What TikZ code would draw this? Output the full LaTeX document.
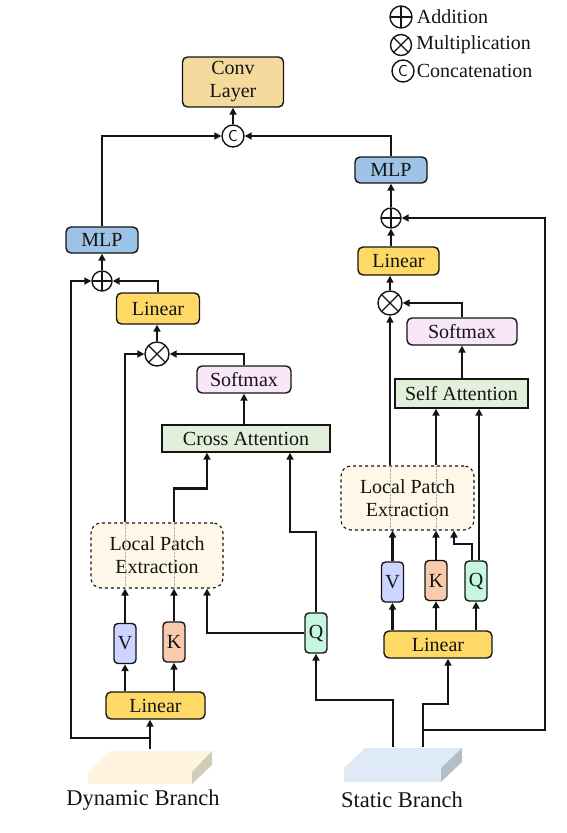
\documentclass[tikz,border=0pt]{standalone}
\usepackage{fontspec}
\setmainfont{Liberation Serif}
\usetikzlibrary{arrows.meta,positioning}
\definecolor{dbink}{HTML}{141414}
\definecolor{dbconv}{HTML}{F5DA9E}
\definecolor{dbmlp}{HTML}{9DC3E6}
\definecolor{dblinear}{HTML}{FFD966}
\definecolor{dbsoft}{HTML}{F9E7F9}
\definecolor{dbattn}{HTML}{E2EFDA}
\definecolor{dbpatch}{HTML}{FFF8E8}
\definecolor{dbv}{HTML}{CCD5FF}
\definecolor{dbk}{HTML}{F8CBAD}
\definecolor{dbq}{HTML}{C6F5E0}
\definecolor{dbcream}{HTML}{FFF5DE}
\definecolor{dbcreamside}{HTML}{D1CCB9}
\definecolor{dbsky}{HTML}{DEEAF6}
\definecolor{dbskyside}{HTML}{B3BEC9}
\tikzset{
  db text/.style={font=\fontsize{20}{23}\selectfont, text=dbink},
  db box/.style={draw=dbink, line width=1.4pt, rounded corners=5pt, inner sep=0pt,
    align=center, db text},
  db attn/.style={draw=dbink, line width=1.4pt, fill=dbattn, inner sep=0pt, db text},
  db qkv/.style={db box, rounded corners=4pt, minimum width=22pt, minimum height=40pt},
  db patch/.style={draw=dbink, line width=1.1pt, dashed, rounded corners=10pt, fill=dbpatch,
    align=center, db text, inner sep=0pt, minimum width=132pt, minimum height=64pt},
  db op/.style={circle, draw=dbink, line width=1.4pt, fill=white, inner sep=0pt,
    minimum size=20pt},
  db add/.style={db op, path picture={
    \draw[line width=1.4pt] (path picture bounding box.north) -- (path picture bounding box.south)
      (path picture bounding box.west) -- (path picture bounding box.east);}},
  db mul/.style={db op, minimum size=24pt, path picture={
    \draw[line width=1.4pt] (path picture bounding box.north west) -- (path picture bounding box.south east)
      (path picture bounding box.south west) -- (path picture bounding box.north east);}},
  db cat/.style={db op, minimum size=22pt, font=\sffamily\fontsize{16}{16}\selectfont},
  db arrow/.style={-{Triangle[length=7pt,width=7pt]}, line width=2.2pt, draw=dbink},
  db ghost/.style={draw=black!30, line width=0.4pt, densely dotted},
  db label/.style={font=\fontsize{22.5}{26}\selectfont, text=dbink}
}
\begin{document}
\begin{tikzpicture}[x=1pt, y=-1pt]
  \useasboundingbox (0,0) rectangle (567,833);

  % legend
  \node[db add, minimum size=22pt] (legadd) at (401,17) {};
  \node[db text, right=3pt of legadd, inner sep=1pt] (legaddtxt) {Addition};
  \node[db mul, minimum size=21pt] (legmul) at (401,45) {};
  \node[db text, right=3pt of legmul, inner sep=1pt] (legmultxt) {Multiplication};
  \node[db cat] (legcat) at (403,71) {C};
  \node[db text, right=1pt of legcat, inner sep=1pt] (legcattxt) {Concatenation};

  % top
  \node[db box, fill=dbconv, minimum width=101pt, minimum height=50pt] (conv) at (233,82) {Conv\\Layer};
  \node[db cat] (cat) at (233,136) {C};

  % dynamic branch
  \node[db box, fill=dbmlp, minimum width=72pt, minimum height=26pt] (mlpL) at (102,240) {MLP};
  \node[db add] (addL) at (102,281) {};
  \node[db box, fill=dblinear, minimum width=83pt, minimum height=31pt] (linL) at (158,308.5) {Linear};
  \node[db mul] (mulL) at (157,354) {};
  \node[db box, fill=dbsoft, minimum width=94pt, minimum height=27pt] (softL) at (244,379.5) {Softmax};
  \node[db attn, minimum width=168pt, minimum height=27pt] (cross) at (246,438.5) {Cross Attention};
  \node[db patch, minimum height=65pt] (lpL) at (157,555.5) {Local Patch\\Extraction};
  \node[db qkv, fill=dbv] (vL) at (125,643.5) {V};
  \node[db qkv, fill=dbk] (kL) at (174,642) {K};
  \node[db box, fill=dblinear, minimum width=99pt, minimum height=27pt] (linL2) at (155.5,705.5) {Linear};
  \node[db qkv, fill=dbq] (qL) at (316,633) {Q};

  % static branch
  \node[db box, fill=dbmlp, minimum width=72pt, minimum height=26pt] (mlpR) at (391,170) {MLP};
  \node[db add] (addR) at (391,218) {};
  \node[db box, fill=dblinear, minimum width=81pt, minimum height=28pt] (linR) at (398.5,261) {Linear};
  \node[db mul] (mulR) at (390,303) {};
  \node[db box, fill=dbsoft, minimum width=110pt, minimum height=27pt] (softR) at (462,331.5) {Softmax};
  \node[db attn, minimum width=133pt, minimum height=29pt] (self) at (461.5,393.5) {Self Attention};
  \node[db patch, minimum width=133pt] (lpR) at (407.5,498) {Local Patch\\Extraction};
  \node[db qkv, fill=dbv] (vR) at (392.5,582) {V};
  \node[db qkv, fill=dbk] (kR) at (436,580.5) {K};
  \node[db qkv, fill=dbq] (qR) at (476,581) {Q};
  \node[db box, fill=dblinear, minimum width=108pt, minimum height=27pt] (linR2) at (438,644.5) {Linear};

  % input slabs
  \fill[dbcream] (88,772) rectangle (192,784);
  \fill[dbcream] (88,772) -- (110,751) -- (212,751) -- (192,772) -- cycle;
  \fill[dbcreamside] (192,772) -- (212,751) -- (212,765) -- (192,784) -- cycle;
  \fill[dbsky] (344,768) rectangle (441,782);
  \fill[dbsky] (344,768) -- (365,748) -- (462,748) -- (441,768) -- cycle;
  \fill[dbskyside] (441,768) -- (462,748) -- (462,762) -- (441,782) -- cycle;
  \node[db label] (dynlabel) at (143,800) {Dynamic Branch};
  \node[db label] (statlabel) at (402,800) {Static Branch};

  \coordinate (dynsrc) at (150,749);
  \coordinate (dynsplit) at (150,738);
  \coordinate (skipL) at (71,500);
  \coordinate (stsrcA) at (393,747);
  \coordinate (stsrcB) at (423,747);
  \coordinate (stsplit) at (423,730);
  \coordinate (skipR) at (545,500);
  \coordinate (qRtap) at ([xshift=3pt]qR.north);

  % ghost lines behind the patch boxes
  \draw[db ghost] (vL |- lpL.south) -- (vL |- lpL.north);
  \draw[db ghost] (kL |- lpL.south) -- (kL |- lpL.north);
  \draw[db ghost] (mulR |- lpR.south) -- (mulR |- lpR.north);
  \draw[db ghost] (kR |- lpR.south) -- (kR |- lpR.north);

  % dynamic connectors
  \draw[db arrow] (dynsrc) -- (dynsrc |- linL2.south);
  \draw[db arrow] (dynsplit) -| (skipL) |- (addL.west);
  \draw[db arrow] (linL2.north -| vL) -- (vL.south);
  \draw[db arrow] (linL2.north -| kL) -- (kL.south);
  \draw[db arrow] (vL.north) -- (vL.north |- lpL.south);
  \draw[db arrow] (kL.north) -- (kL.north |- lpL.south);
  \draw[db arrow] (qL.west) -| ([xshift=50pt]lpL.south);
  \draw[db arrow] (qL.north) -- ++(0,-80) -| ([xshift=44pt]cross.south);
  \draw[db arrow] (lpL.north -| kL) -- ++(0,-34) -| ([xshift=-39pt]cross.south);
  \draw[db arrow] (lpL.north -| vL) |- (mulL.west);
  \draw[db arrow] (softL |- cross.north) -- (softL.south);
  \draw[db arrow] (softL.north) |- (mulL.east);
  \draw[db arrow] (mulL.north) -- (mulL |- linL.south);
  \draw[db arrow] (linL.north) |- (addL.east);
  \draw[db arrow] (addL.north) -- (mlpL.south);
  \draw[db arrow] (mlpL.north) |- (cat.west);

  % static connectors
  \draw[db arrow] (stsrcA) -- ++(0,-47) -| (qL.south);
  \draw[db arrow] (stsrcB) -- ++(0,-43) -| ([xshift=10pt]linR2.south);
  \draw[db arrow] (stsplit) -| (skipR) |- (addR.east);
  \draw[db arrow] (linR2.north -| vR) -- (vR.south);
  \draw[db arrow] (linR2.north -| kR) -- (kR.south);
  \draw[db arrow] (linR2.north -| qR) -- (qR.south);
  \draw[db arrow] (vR.north) -- (vR.north |- lpR.south);
  \draw[db arrow] (kR.north) -- (kR.north |- lpR.south);
  \draw[db arrow] ([xshift=-4pt]qR.north) -- ++(0,-16) -| ([xshift=46.5pt]lpR.south);
  \draw[db arrow] (qRtap) -- (qRtap |- self.south);
  \draw[db arrow] (lpR.north -| kR) -- (kR |- self.south);
  \draw[db arrow] (lpR.north -| mulR) -- (mulR.south);
  \draw[db arrow] (softR |- self.north) -- (softR.south);
  \draw[db arrow] (softR.north) |- (mulR.east);
  \draw[db arrow] (mulR.north) -- (mulR |- linR.south);
  \draw[db arrow] (addR |- linR.north) -- (addR.south);
  \draw[db arrow] (addR.north) -- (mlpR.south);
  \draw[db arrow] (mlpR.north) |- (cat.east);
  \draw[db arrow] (cat.north) -- (conv.south);
\end{tikzpicture}
\end{document}
